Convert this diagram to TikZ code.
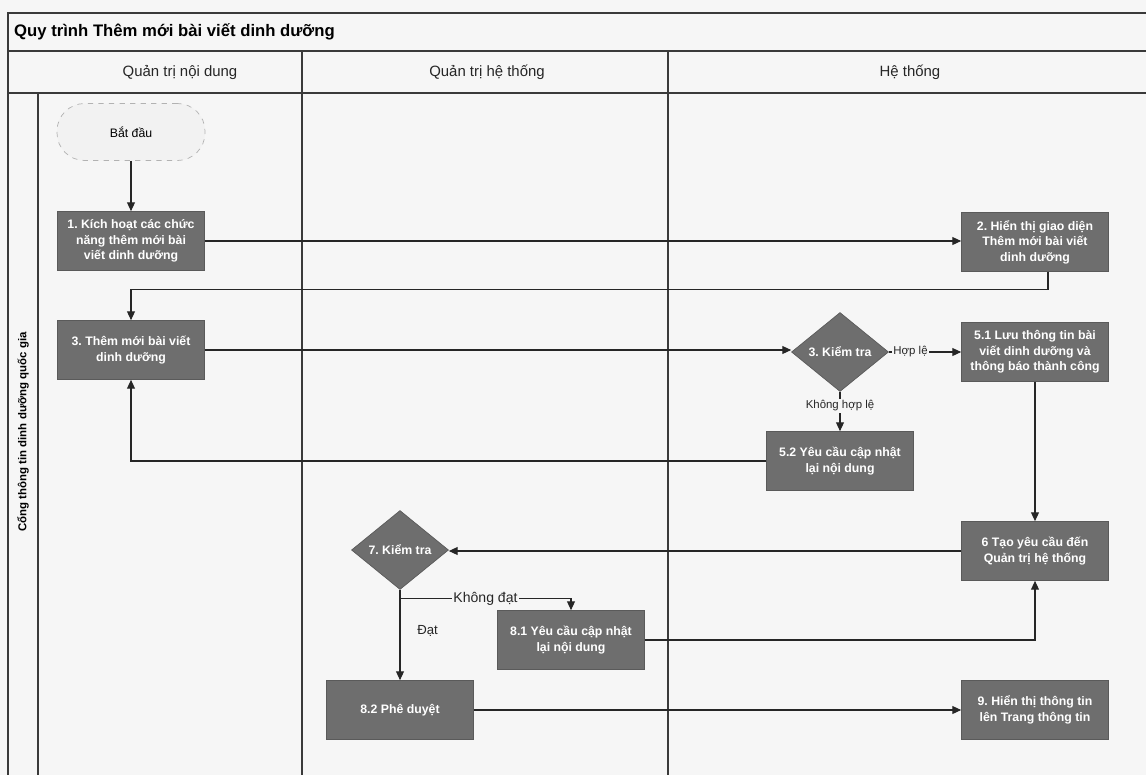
\documentclass[tikz,border=0pt]{standalone}
\usepackage{fontspec}
\setmainfont{Liberation Sans}
\usetikzlibrary{shapes.geometric,arrows.meta,calc}
\definecolor{bg}{HTML}{F6F6F6}
\definecolor{boxfill}{HTML}{6E6E6E}
\definecolor{boxline}{HTML}{5A5A5A}
\definecolor{frameline}{HTML}{3A3A3A}
\frenchspacing
\tikzset{
  frame/.style={draw=frameline, line width=0.6pt},
  procbox/.style={rectangle, draw=boxline, fill=boxfill, text=white,
    font=\fontsize{7}{8.8}\selectfont\bfseries, align=center,
    minimum width=2.94cm, minimum height=1.18cm, inner sep=1pt},
  decbox/.style={diamond, draw=boxline, fill=boxfill, text=white,
    font=\fontsize{7}{8.6}\selectfont\bfseries, inner sep=0pt,
    minimum width=1.94cm, minimum height=1.58cm},
  startbox/.style={rectangle, rounded corners=0.55cm, draw=black!30, dashed, fill=black!5,
    font=\fontsize{7}{8.6}\selectfont, minimum width=2.96cm, minimum height=1.14cm},
  arr/.style={draw=black!85, line width=0.6pt, -{Triangle[length=5pt,width=4.5pt]}},
  lbl/.style={fill=bg, inner sep=1pt, text=black!85, font=\fontsize{6.5}{8}\selectfont},
  hdr/.style={font=\fontsize{8.5}{10}\selectfont, text=black!85},
}
\begin{document}
\begin{tikzpicture}[x=0.02cm,y=-0.02cm]
\useasboundingbox (0,0) rectangle (1146,775);
\fill[bg] (0,0) rectangle (1146,775);
% frame
\draw[frame] (1146,13) -- (8,13) -- (8,775);
\draw[frame] (8,51) -- (1146,51);
\draw[frame] (8,93) -- (1146,93);
\draw[frame] (38,93) -- (38,775);
\draw[frame] (302,51) -- (302,775);
\draw[frame] (668,51) -- (668,775);
\node[anchor=west, font=\fontsize{9.5}{11}\selectfont\bfseries] (title) at (8,32) {Quy trình Thêm mới bài viết dinh dưỡng};
\node[hdr] (h1) at (180,72) {Quản trị nội dung};
\node[hdr] (h2) at (487,72) {Quản trị hệ thống};
\node[hdr] (h3) at (910,72) {Hệ thống};
\node[rotate=90, font=\fontsize{6.5}{8}\selectfont\bfseries] (pool) at (23,432) {Cổng thông tin dinh dưỡng quốc gia};
% nodes
\node[startbox] (start) at (131,132) {Bắt đầu};
\node[procbox] (b1) at (131,241) {1. Kích hoạt các chức\\năng thêm mới bài\\viết dinh dưỡng};
\node[procbox] (b2) at (1035,242) {2. Hiển thị giao diện\\Thêm mới bài viết\\dinh dưỡng};
\node[procbox] (b3) at (131,350) {3. Thêm mới bài viết\\dinh dưỡng};
\node[decbox] (d3) at (840,352) {3. Kiểm tra};
\node[procbox] (b51) at (1035,352) {5.1 Lưu thông tin bài\\viết dinh dưỡng và\\thông báo thành công};
\node[procbox] (b52) at (840,461) {5.2 Yêu cầu cập nhật\\lại nội dung};
\node[procbox] (b6) at (1035,551) {6 Tạo yêu cầu đến\\Quản trị hệ thống};
\node[decbox] (d7) at (400,550) {7. Kiểm tra};
\node[procbox] (b81) at (571,640) {8.1 Yêu cầu cập nhật\\lại nội dung};
\node[procbox] (b82) at (400,710) {8.2 Phê duyệt};
\node[procbox] (b9) at (1035,710) {9. Hiển thị thông tin\\lên Trang thông tin};
% connectors
\draw[arr] (start.south) -- (b1.north);
\draw[arr] (b1.east) -- (b1.east -| b2.west);
\draw[arr] ($(b2.south)+(13,0)$) -- ++(0,18) -| (b3.north);
\draw[arr] (b3.east) -- (b3.east -| d3.west);
\draw[arr] (d3.east) -- node[lbl, pos=0.3] (l1) {Hợp lệ} (b51.west);
\draw[arr] (d3.south) -- node[lbl, pos=0.36] (l2) {Không hợp lệ} (b52.north);
\draw[arr] (b52.west) -| (b3.south);
\draw[arr] (b51.south) -- (b6.north);
\draw[arr] (b6.west) -- (b6.west -| d7.east);
\draw[arr] (d7.south) -- node[pos=0.46, anchor=west, xshift=0.22cm, font=\fontsize{7.5}{9}\selectfont, text=black!85] (l4) {Đạt} (b82.north);
\draw[arr] (d7.south) -- ++(0,9) -| node[lbl, pos=0.25, font=\fontsize{8}{9.5}\selectfont] (l3) {Không đạt} (b81.north);
\draw[arr] (b81.east) -| (b6.south);
\draw[arr] (b82.east) -- (b82.east -| b9.west);
\end{tikzpicture}
\end{document}
